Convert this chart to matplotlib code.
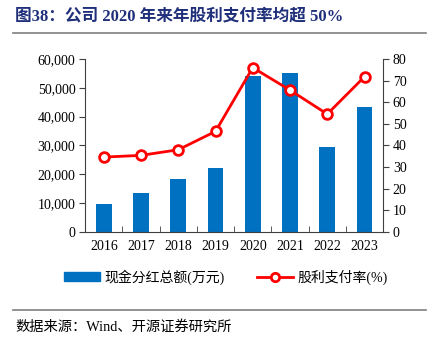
import matplotlib
matplotlib.use('Agg')
import matplotlib.pyplot as plt
from matplotlib.lines import Line2D
from matplotlib.patches import Patch
import numpy as np

plt.rcParams['font.family'] = ['Liberation Serif', 'Noto Sans CJK SC']

years = ['2016', '2017', '2018', '2019', '2020', '2021', '2022', '2023']
dividend = [9700, 13500, 18400, 22100, 54000, 55200, 29500, 43500]
payout = [34.6, 35.4, 38.0, 46.5, 76.0, 65.6, 54.5, 71.8]

fig = plt.figure(figsize=(4.30, 3.39), dpi=100)
ax = fig.add_axes([0.198, 0.316, 0.693, 0.510])
x = np.arange(len(years))

ax.bar(x, dividend, width=0.42, color='#0070C0', zorder=2)
ax.set_xlim(-0.5, len(years) - 0.5)
ax.set_ylim(0, 60000)
ax.set_yticks(range(0, 60001, 10000))
ax.set_yticklabels(['{:,}'.format(v) for v in range(0, 60001, 10000)], fontsize=10)
ax.set_xticks(x)
ax.set_xticklabels(years, fontsize=10)
ax.tick_params(axis='x', length=0, pad=6)
ax.set_xticks(np.arange(-0.5, len(years), 1), minor=True)
ax.tick_params(axis='x', which='minor', direction='in', length=4, color='#404040')
ax.tick_params(axis='y', direction='out', length=4, color='#404040', pad=3)
ax.spines['top'].set_visible(False)
ax.spines['right'].set_visible(False)
for s in ['left', 'bottom']:
    ax.spines[s].set_color('#404040')

ax2 = ax.twinx()
ax2.plot(x, payout, color='#FF0000', lw=2, marker='o', ms=7,
         mfc='white', mec='#FF0000', mew=2, zorder=3)
ax2.set_ylim(0, 80)
ax2.set_yticks(range(0, 81, 10))
ax2.tick_params(axis='y', direction='out', length=4, color='#404040', labelsize=10, pad=3)
ax2.spines['top'].set_visible(False)
ax2.spines['left'].set_visible(False)
ax2.spines['bottom'].set_visible(False)
ax2.spines['right'].set_color('#404040')

handles = [Patch(color='#0070C0'),
           Line2D([0], [0], color='#FF0000', lw=2, marker='o', ms=6,
                  mfc='white', mec='#FF0000', mew=2)]
fig.legend(handles, ['现金分红总额(万元)', '股利支付率(%)'], loc='center',
           bbox_to_anchor=(0.525, 0.183), ncol=2, frameon=False, fontsize=10,
           handlelength=2.6, handleheight=0.6, columnspacing=2.3, handletextpad=0.3)

fig.text(0.035, 0.952, '图38：公司 2020 年来年股利支付率均超 50%', fontsize=12,
         fontweight='bold', color='#1F2F7A', va='center')
fig.add_artist(Line2D([0.03, 0.99], [0.903, 0.903], color='#7F7F7F', lw=1.2))
fig.add_artist(Line2D([0.03, 0.99], [0.086, 0.086], color='#7F7F7F', lw=1.2))
fig.text(0.035, 0.036, '数据来源：Wind、开源证券研究所', fontsize=10.3, va='center')

fig.savefig('out.png', dpi=100)
